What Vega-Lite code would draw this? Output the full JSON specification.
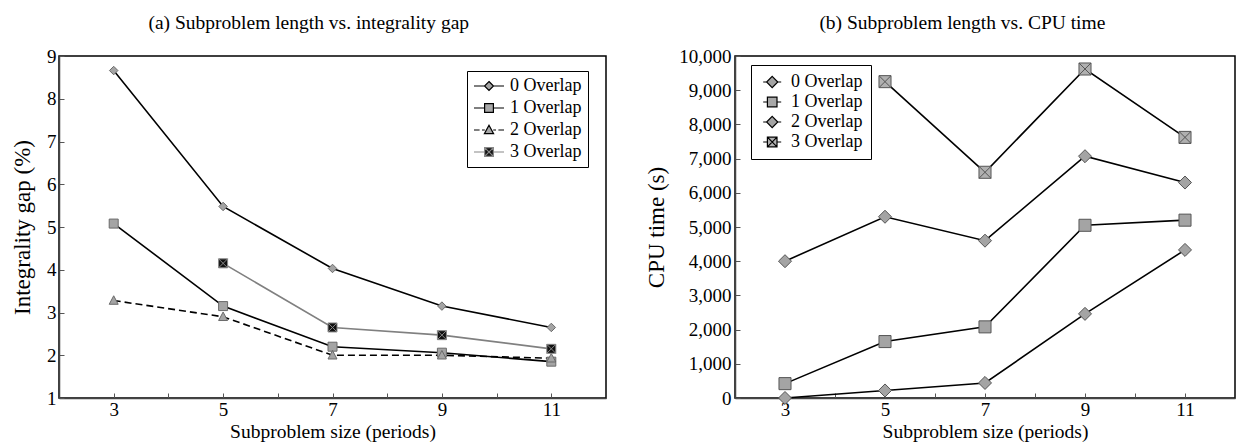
{
  "$schema": "https://vega.github.io/schema/vega-lite/v6.json",
  "padding": {"left": 10, "top": 11, "right": 4, "bottom": 2},
  "spacing": 38,
  "resolve": {
    "scale": {"shape": "independent", "fill": "independent", "stroke": "independent"},
    "legend": {"shape": "independent", "fill": "independent", "stroke": "independent"}
  },
  "config": {
    "font": "Liberation Serif",
    "view": {"stroke": "black", "strokeWidth": 1.5},
    "axis": {
      "labelFont": "Liberation Serif", "labelFontSize": 19, "labelColor": "black",
      "titleFont": "Liberation Serif", "titleFontSize": 19.5, "titleFontWeight": "normal", "titleColor": "black",
      "grid": false, "domainColor": "#444", "domainWidth": 1.5, "tickColor": "#555", "tickSize": -5
    },
    "axisX": {"labelPadding": 7, "titlePadding": 3},
    "axisY": {"labelPadding": 8, "titleFontSize": 23},
    "legend": {
      "labelFont": "Liberation Serif", "labelFontSize": 18, "labelColor": "black",
      "strokeColor": "black", "fillColor": "white", "symbolSize": 256,
      "symbolStrokeWidth": 1.2, "orient": "none", "title": null
    },
    "title": {"font": "Liberation Serif", "fontSize": 19.5, "fontWeight": "normal", "color": "black"}
  },
  "hconcat": [
    {
      "width": 547, "height": 342,
      "title": {"text": "(a) Subproblem length vs. integrality gap", "anchor": "middle", "frame": "bounds", "offset": 14},
      "data": {"values": [
        {"size": 3, "gap": 8.66, "series": "0 Overlap"},
        {"size": 5, "gap": 5.48, "series": "0 Overlap"},
        {"size": 7, "gap": 4.03, "series": "0 Overlap"},
        {"size": 9, "gap": 3.15, "series": "0 Overlap"},
        {"size": 11, "gap": 2.65, "series": "0 Overlap"},
        {"size": 3, "gap": 5.08, "series": "1 Overlap"},
        {"size": 5, "gap": 3.15, "series": "1 Overlap"},
        {"size": 7, "gap": 2.2, "series": "1 Overlap"},
        {"size": 9, "gap": 2.06, "series": "1 Overlap"},
        {"size": 11, "gap": 1.85, "series": "1 Overlap"},
        {"size": 3, "gap": 3.28, "series": "2 Overlap"},
        {"size": 5, "gap": 2.9, "series": "2 Overlap"},
        {"size": 7, "gap": 2.0, "series": "2 Overlap"},
        {"size": 9, "gap": 2.0, "series": "2 Overlap"},
        {"size": 11, "gap": 1.93, "series": "2 Overlap"},
        {"size": 5, "gap": 4.15, "series": "3 Overlap"},
        {"size": 7, "gap": 2.65, "series": "3 Overlap"},
        {"size": 9, "gap": 2.47, "series": "3 Overlap"},
        {"size": 11, "gap": 2.15, "series": "3 Overlap"}
      ]},
      "encoding": {
        "x": {"field": "size", "type": "quantitative", "scale": {"domain": [2, 12], "nice": false},
          "axis": {"title": "Subproblem size (periods)", "values": [3,4,5,6,7,8,9,10,11], "labelExpr": "datum.value % 2 === 1 ? datum.label : ''"}},
        "y": {"field": "gap", "type": "quantitative", "scale": {"domain": [1, 9], "nice": false},
          "axis": {"title": "Integrality gap (%)", "values": [1,2,3,4,5,6,7,8,9], "titlePadding": 12}}
      },
      "layer": [
        {
          "transform": [{"filter": "datum.series === '0 Overlap' || datum.series === '1 Overlap'"}],
          "mark": {"type": "line", "strokeWidth": 1.6, "color": "black"},
          "encoding": {"detail": {"field": "series", "type": "nominal"}}
        },
        {
          "transform": [{"filter": "datum.series === '2 Overlap'"}],
          "mark": {"type": "line", "strokeWidth": 1.6, "color": "black", "strokeDash": [7, 4]},
          "encoding": {}
        },
        {
          "transform": [{"filter": "datum.series === '3 Overlap'"}],
          "mark": {"type": "line", "strokeWidth": 1.6, "color": "#808080"},
          "encoding": {}
        },
        {
          "mark": {"type": "point", "filled": true, "opacity": 1, "strokeWidth": 1, "size": 100},
          "encoding": {
            "shape": {"condition": [
              {"test": "datum.series === '0 Overlap'", "value": "M0,-0.85L0.85,0L0,0.85L-0.85,0Z"},
              {"test": "datum.series === '1 Overlap'", "value": "M-0.9,-0.9H0.9V0.9H-0.9Z"},
              {"test": "datum.series === '2 Overlap'", "value": "M0,-0.95L0.9,0.75H-0.9Z"}
            ], "value": "M-0.9,-0.9H0.9V0.9H-0.9ZM-0.9,-0.9L0.9,0.9M0.9,-0.9L-0.9,0.9"},
            "fill": {"condition": {"test": "datum.series === '3 Overlap'", "value": "#111111"}, "value": "#a4a4a4"},
            "stroke": {"condition": {"test": "datum.series === '3 Overlap'", "value": "#888888"}, "value": "#6a6a6a"}
          }
        },
        {
          "transform": [{"filter": "false"}],
          "mark": {"type": "point", "filled": true, "opacity": 1, "strokeWidth": 1.2},
          "encoding": {
            "shape": {"field": "series", "type": "nominal",
              "scale": {"domain": ["0 Overlap","1 Overlap","2 Overlap","3 Overlap"], "range": [
                "M-1,0H0.31M1.44,0H2.75M0.875,-0.56L1.435,0L0.875,0.56L0.315,0Z",
                "M-1,0H0.325M1.425,0H2.75M0.325,-0.55H1.425V0.55H0.325Z",
                "M-1,0H-0.3M0.0,0H0.35M1.4,0H1.75M2.05,0H2.75M0.875,-0.6L1.45,0.45H0.3Z",
                "M-1,0H0.325M1.425,0H2.75M0.325,-0.55H1.425V0.55H0.325ZM0.325,-0.55L1.425,0.55M1.425,-0.55L0.325,0.55"]},
              "legend": {"legendX": 408, "legendY": 15, "padding": 6, "rowPadding": 4, "labelOffset": 19}},
            "fill": {"field": "series", "type": "nominal",
              "scale": {"domain": ["0 Overlap","1 Overlap","2 Overlap","3 Overlap"], "range": ["#a4a4a4","#a8a8a8","#a8a8a8","#111111"]},
              "legend": {"legendX": 408, "legendY": 15, "padding": 6, "rowPadding": 4, "labelOffset": 19}},
            "stroke": {"field": "series", "type": "nominal",
              "scale": {"domain": ["0 Overlap","1 Overlap","2 Overlap","3 Overlap"], "range": ["black","black","black","#888888"]},
              "legend": {"legendX": 408, "legendY": 15, "padding": 6, "rowPadding": 4, "labelOffset": 19}}
          }
        }
      ]
    },
    {
      "width": 500, "height": 342,
      "title": {"text": "(b) Subproblem length vs. CPU time", "anchor": "middle", "frame": "bounds", "offset": 14, "dx": 22},
      "data": {"values": [
        {"size": 3, "cpu": 4000, "series": "0 Overlap"},
        {"size": 5, "cpu": 5300, "series": "0 Overlap"},
        {"size": 7, "cpu": 4600, "series": "0 Overlap"},
        {"size": 9, "cpu": 7070, "series": "0 Overlap"},
        {"size": 11, "cpu": 6300, "series": "0 Overlap"},
        {"size": 3, "cpu": 420, "series": "1 Overlap"},
        {"size": 5, "cpu": 1650, "series": "1 Overlap"},
        {"size": 7, "cpu": 2080, "series": "1 Overlap"},
        {"size": 9, "cpu": 5050, "series": "1 Overlap"},
        {"size": 11, "cpu": 5200, "series": "1 Overlap"},
        {"size": 3, "cpu": 0, "series": "2 Overlap"},
        {"size": 5, "cpu": 220, "series": "2 Overlap"},
        {"size": 7, "cpu": 440, "series": "2 Overlap"},
        {"size": 9, "cpu": 2460, "series": "2 Overlap"},
        {"size": 11, "cpu": 4330, "series": "2 Overlap"},
        {"size": 5, "cpu": 9250, "series": "3 Overlap"},
        {"size": 7, "cpu": 6600, "series": "3 Overlap"},
        {"size": 9, "cpu": 9620, "series": "3 Overlap"},
        {"size": 11, "cpu": 7620, "series": "3 Overlap"}
      ]},
      "encoding": {
        "x": {"field": "size", "type": "quantitative", "scale": {"domain": [2, 12], "nice": false},
          "axis": {"title": "Subproblem size (periods)", "values": [3,4,5,6,7,8,9,10,11], "labelExpr": "datum.value % 2 === 1 ? datum.label : ''"}},
        "y": {"field": "cpu", "type": "quantitative", "scale": {"domain": [0, 10000], "nice": false},
          "axis": {"title": "CPU time (s)", "values": [0,1000,2000,3000,4000,5000,6000,7000,8000,9000,10000], "format": ",.0f", "titlePadding": 10, "labelPadding": 9}}
      },
      "layer": [
        {
          "mark": {"type": "line", "strokeWidth": 1.6, "color": "black"},
          "encoding": {"detail": {"field": "series", "type": "nominal"}}
        },
        {
          "mark": {"type": "point", "filled": true, "opacity": 1, "strokeWidth": 1, "size": 196},
          "encoding": {
            "shape": {"condition": [
              {"test": "datum.series === '1 Overlap'", "value": "M-0.86,-0.86H0.86V0.86H-0.86Z"},
              {"test": "datum.series === '3 Overlap'", "value": "M-0.86,-0.86H0.86V0.86H-0.86ZM-0.86,-0.86L0.86,0.86M0.86,-0.86L-0.86,0.86"}
            ], "value": "M0,-0.93L0.93,0L0,0.93L-0.93,0Z"},
            "fill": {"condition": {"test": "datum.series === '3 Overlap'", "value": "#b0b0b0"}, "value": "#a4a4a4"},
            "stroke": {"value": "#555555"}
          }
        },
        {
          "transform": [{"filter": "false"}],
          "mark": {"type": "point", "filled": true, "opacity": 1, "strokeWidth": 1.2},
          "encoding": {
            "shape": {"field": "series", "type": "nominal",
              "scale": {"domain": ["0 Overlap","1 Overlap","2 Overlap","3 Overlap"], "range": [
                "M-0.6,0H-0.175M1.225,0H1.65M0.525,-0.7L1.225,0L0.525,0.7L-0.175,0Z",
                "M-0.6,0H-0.075M1.125,0H1.65M-0.075,-0.6H1.125V0.6H-0.075Z",
                "M-0.6,0H-0.175M1.225,0H1.65M0.525,-0.7L1.225,0L0.525,0.7L-0.175,0Z",
                "M-0.6,0H-0.075M1.125,0H1.65M-0.075,-0.6H1.125V0.6H-0.075ZM-0.075,-0.6L1.125,0.6M1.125,-0.6L-0.075,0.6"]},
              "legend": {"legendX": 16, "legendY": 9, "padding": 8, "rowPadding": 2, "labelOffset": 14}},
            "fill": {"field": "series", "type": "nominal",
              "scale": {"domain": ["0 Overlap","1 Overlap","2 Overlap","3 Overlap"], "range": ["#a4a4a4","#a8a8a8","#a4a4a4","#b0b0b0"]},
              "legend": {"legendX": 16, "legendY": 9, "padding": 8, "rowPadding": 2, "labelOffset": 14}},
            "stroke": {"field": "series", "type": "nominal",
              "scale": {"domain": ["0 Overlap","1 Overlap","2 Overlap","3 Overlap"], "range": ["black","black","black","black"]},
              "legend": {"legendX": 16, "legendY": 9, "padding": 8, "rowPadding": 2, "labelOffset": 14}}
          }
        }
      ]
    }
  ]
}
